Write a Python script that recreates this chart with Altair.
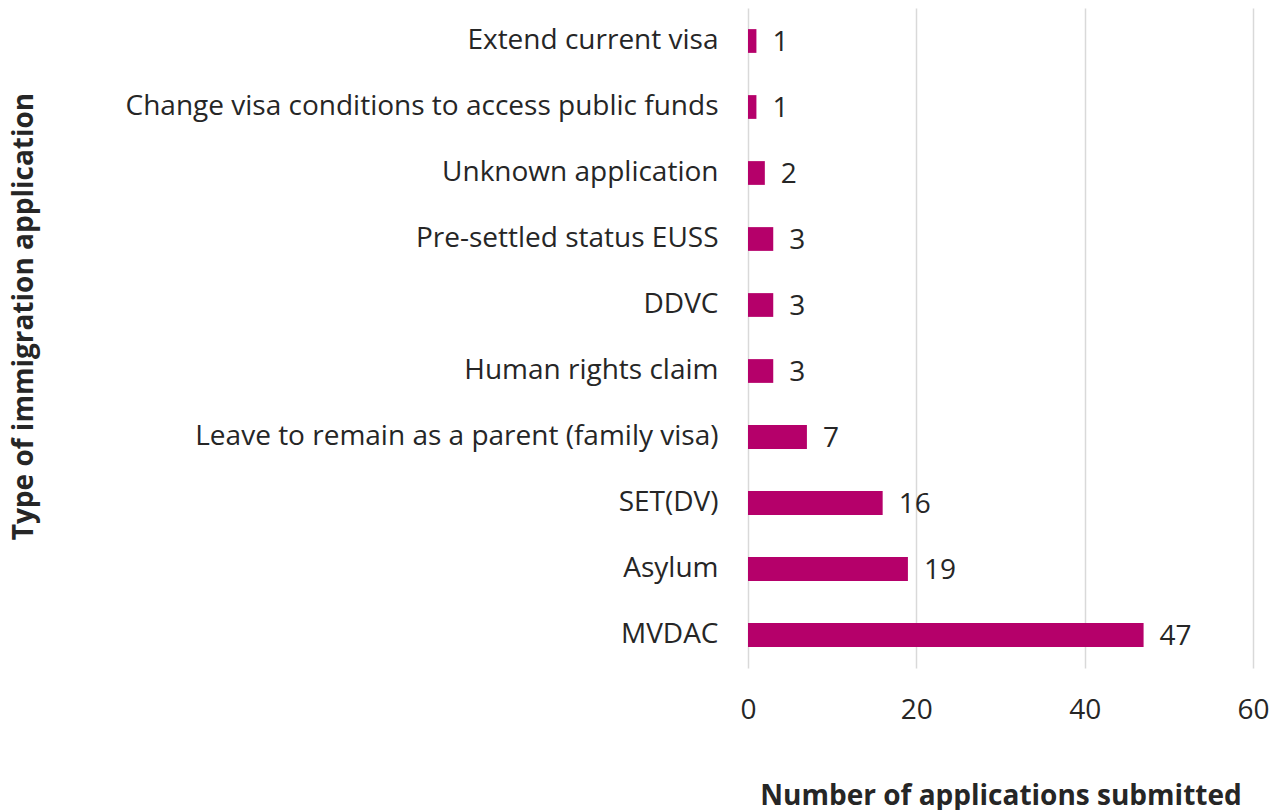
import altair as alt
import pandas as pd

categories = [
    "Extend current visa",
    "Change visa conditions to access public funds",
    "Unknown application",
    "Pre-settled status EUSS",
    "DDVC",
    "Human rights claim",
    "Leave to remain as a parent (family visa)",
    "SET(DV)",
    "Asylum",
    "MVDAC",
]
values = [1, 1, 2, 3, 3, 3, 7, 16, 19, 47]

df = pd.DataFrame({"type": categories, "count": values})

FONT = "Open Sans"
TXT = "#262626"
BAR = "#B5006A"

y_enc = alt.Y(
    "type:N",
    sort=categories,
    scale=alt.Scale(paddingInner=0.64, paddingOuter=0.32),
    axis=alt.Axis(
        title="Type of immigration application",
        titleFont=FONT,
        titleFontSize=28,
        titleFontWeight="bold",
        titleColor=TXT,
        titleX=-724,
        titleY=308,
        titleAngle=-90,
        titleAlign="center",
        titleBaseline="middle",
        labelFont=FONT,
        labelFontSize=28,
        labelColor=TXT,
        labelPadding=30,
        labelLimit=800,
        domain=False,
        ticks=False,
        grid=False,
    ),
)

x_enc = alt.X(
    "count:Q",
    scale=alt.Scale(domain=[0, 60], nice=False),
    axis=alt.Axis(
        title="Number of applications submitted",
        values=[0, 20, 40, 60],
        titleFont=FONT,
        titleFontSize=28,
        titleFontWeight="bold",
        titleColor=TXT,
        titlePadding=58,
        labelFont=FONT,
        labelFontSize=28,
        labelColor=TXT,
        labelPadding=28,
        labelFlush=False,
        domain=False,
        ticks=False,
        grid=True,
        gridColor="#d9d9d9",
        gridWidth=1.5,
    ),
)

bars = alt.Chart(df).mark_bar(color=BAR).encode(y=y_enc, x=x_enc)

labels = alt.Chart(df).mark_text(
    align="left", baseline="middle", dx=16, dy=2, font=FONT, fontSize=28, color=TXT
).encode(
    y=alt.Y("type:N", sort=categories),
    x=alt.X("count:Q"),
    text="count:Q",
)

chart = (
    alt.layer(bars, labels)
    .properties(
        width=505,
        height=660,
        autosize=alt.AutoSizeParams(type="none"),
        padding={"left": 740, "top": 0, "right": 20, "bottom": 142},
        view=alt.ViewBackground(strokeOpacity=0, strokeWidth=0),
    )
    .configure_view(strokeWidth=0, strokeOpacity=0)
    .configure(background="white")
)

chart.save("out.html", embed_options={"renderer": "svg", "actions": False})
